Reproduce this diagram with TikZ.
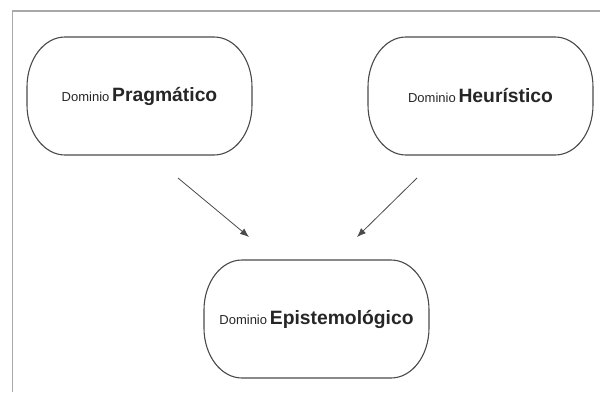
\documentclass[tikz,border=0pt]{standalone}
\usepackage{fontspec}
\setmainfont{Liberation Sans}
\usetikzlibrary{positioning,arrows.meta}

\definecolor{trazo}{HTML}{4A4A4A}
\definecolor{marco}{HTML}{A8A8A8}
\newcommand{\dominio}[1]{{\fontsize{13}{15}\selectfont Dominio}
    {\fontsize{19.3}{21}\selectfont\bfseries #1}}

\tikzset{
    caja/.style={outer sep=0pt, minimum width=225pt, minimum height=118pt,
        text=black!85},
    borde/.style={draw=trazo, line width=1.1pt},
    flecha/.style={draw=trazo, line width=0.8pt,
        -{Latex[length=9pt,width=7pt]}}
}

\begin{document}
\begin{tikzpicture}[
	y=1pt,
	x=1pt,
	scale=1] {

\def\rx{38}
\def\ry{50}
\useasboundingbox (0,0) rectangle (600,392);
% marco exterior
\draw[marco, line width=1.2pt] (12.5,0) -- (12.5,381) -- (600,381);

% dominios de arriba
\node[caja] (prag) at (139.5,296) {\dominio{Pragmático}};
\node[caja, right=116pt of prag] (heur) {\dominio{Heurístico}};

% dominio de abajo
\node[caja] (epis) at (316.5,73) {\dominio{Epistemológico}};

% bordes redondeados
\foreach \n in {prag,heur,epis}
    \draw[borde] ([xshift=\rx]\n.north west) -- ([xshift=-\rx]\n.north east)
        arc[start angle=90, end angle=0, x radius=\rx, y radius=\ry]
        -- ([yshift=\ry]\n.south east)
        arc[start angle=0, end angle=-90, x radius=\rx, y radius=\ry]
        -- ([xshift=\rx]\n.south west)
        arc[start angle=270, end angle=180, x radius=\rx, y radius=\ry]
        -- ([yshift=-\ry]\n.north west)
        arc[start angle=180, end angle=90, x radius=\rx, y radius=\ry]
        -- cycle;

% extremos de las flechas
\coordinate (p1) at ([shift={(38.5,-23)}]prag.south);
\coordinate (p2) at ([shift={(-67.5,23)}]epis.north);
\coordinate (h1) at ([shift={(-63.5,-23)}]heur.south);
\coordinate (h2) at ([shift={(40.5,23)}]epis.north);

\draw[flecha] (p1) -- (p2);
\draw[flecha] (h1) -- (h2);
}\end{tikzpicture}
\end{document}
